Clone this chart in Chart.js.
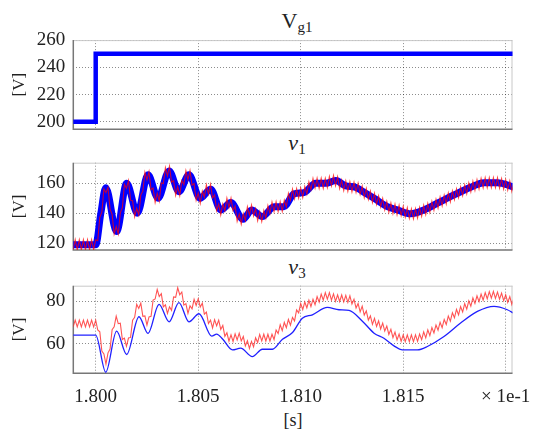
<!DOCTYPE html>
<html>
<head>
<meta charset="utf-8">
<script src="https://cdn.jsdelivr.net/npm/chart.js@4.4.0/dist/chart.umd.min.js"></script>
<style>
  body { margin: 0; background: #fff; width: 533px; height: 430px; position: relative; overflow: hidden;
         font-family: "Liberation Serif", "DejaVu Serif", serif; color: #222; }
  canvas { position: absolute; left: 0; }
  .ttl { position: absolute; left: 197px; width: 200px; text-align: center; font-size: 22px; line-height: 22px; }
  .ttl sub { font-size: 15px; vertical-align: -4px; line-height: 0; font-style: normal; }
  #xlab { position: absolute; left: 243px; width: 100px; text-align: center; top: 411px; font-size: 18px; line-height: 18px; }
</style>
</head>
<body>
<div class="ttl" style="top:10px">V<sub>g1</sub></div>
<div class="ttl" style="top:132px"><i>v</i><sub>1</sub></div>
<div class="ttl" style="top:256px"><i>v</i><sub>3</sub></div>
<div id="xlab">[s]</div>
<canvas id="c1"></canvas>
<canvas id="c2"></canvas>
<canvas id="c3"></canvas>
<script>
// ---- data (time axis in units of x 1e-1 s) ----
const xMin = 1.798907, xMax = 1.820332;

// V_g1 step
const vg1T = [1.7988, 1.8000, 1.8000, 1.8205];
const vg1V = [200, 200, 250, 250];

// v1, blue trace (read at extrema / turning points)
const v1BlueT = [1.7988, 1.8000, 1.80025, 1.80049, 1.80102, 1.80151, 1.80203, 1.80255, 1.80304, 1.80358,
  1.80406, 1.80455, 1.80509, 1.80561, 1.80610, 1.80659, 1.80719, 1.80761, 1.80813, 1.80870,
  1.80918, 1.80967, 1.81016, 1.81073, 1.81122, 1.81171, 1.81220, 1.81268, 1.81317, 1.81358,
  1.81423, 1.81472, 1.81537, 1.81601, 1.81667, 1.81748, 1.81829, 1.81894, 1.81959, 1.82040];
const v1BlueV = [119, 119, 140, 157, 127.8, 160, 140, 165.6, 150, 168.2,
  154.4, 165.6, 150, 156, 142.2, 147.1, 136, 142.2, 137.8, 144.4,
  144.4, 152.9, 153.8, 160, 160, 161.8, 158.2, 157.3, 153.3, 150,
  144.4, 142.2, 139.6, 142.2, 146.7, 152.2, 157.3, 160.4, 160.4, 157.5];

// v3, blue trace
const v3BlueT = [1.7988, 1.8000, 1.80049, 1.80102, 1.80151, 1.80211, 1.80255, 1.80309, 1.80358, 1.80406,
  1.80455, 1.80504, 1.80566, 1.80590, 1.80620, 1.80667, 1.80707, 1.80764, 1.80813, 1.80862,
  1.80911, 1.80960, 1.81008, 1.81057, 1.81130, 1.81187, 1.81236, 1.81301, 1.81358, 1.81406,
  1.81455, 1.81496, 1.81569, 1.81618, 1.81699, 1.81780, 1.81862, 1.81943, 1.82008, 1.82040];
const v3BlueV = [64, 64, 46.4, 65.9, 54.8, 72.7, 64.8, 78.6, 70.3, 79.4,
  70.3, 74.1, 63.5, 64.5, 62, 57.0, 57.8, 53.8, 57.3, 57.3,
  62.0, 65.2, 72.0, 73.6, 77.1, 76.0, 75.7, 70.6, 64.9, 62.5,
  58.9, 57.0, 57.0, 58.6, 63.3, 69.7, 75.2, 77.6, 76.0, 74.3];

// red traces with switching ripple, sampled every 1e-4 from 1.7988
const redStart = 1.7988, redStep = 0.0001;
const v1Red = [
  122.3, 115.7, 122.3, 115.7, 122.3, 115.7, 122.3, 115.7, 122.3, 115.7,
  122.3, 115.7, 122.3, 121.7, 137.3, 140.7, 156.3, 153.7, 157.3, 142.7,
  139.3, 126.2, 131.1, 126.2, 140.3, 143.7, 159.3, 156.7, 161.8, 148.7,
  148.3, 137.7, 143.3, 138.7, 152.3, 154.7, 167.3, 162.3, 167.8, 155.7,
  156.8, 147.2, 153.3, 148.2, 160.3, 159.7, 170.3, 164.9, 171.3, 160.7,
  161.8, 152.0, 157.7, 151.7, 161.8, 159.2, 168.3, 162.3, 168.5, 158.7,
  159.8, 148.7, 153.5, 146.7, 154.8, 150.7, 158.9, 152.7, 159.2, 150.2,
  152.3, 141.7, 146.1, 138.9, 146.3, 141.7, 150.0, 143.8, 150.1, 141.7,
  144.8, 134.7, 139.6, 132.7, 139.8, 135.2, 144.3, 138.8, 145.5, 138.2,
  143.0, 135.0, 141.1, 134.5, 141.8, 136.7, 145.1, 139.9, 147.4, 141.1,
  147.7, 141.1, 147.7, 141.3, 148.8, 144.2, 153.3, 148.7, 156.1, 149.6,
  156.4, 150.1, 156.9, 150.5, 157.8, 152.7, 160.9, 155.7, 163.1, 156.7,
  163.3, 156.7, 163.3, 156.7, 163.3, 157.2, 164.5, 158.3, 165.1, 158.4,
  164.3, 156.5, 162.1, 155.1, 161.5, 154.7, 161.1, 154.3, 160.7, 153.9,
  160.0, 152.5, 158.0, 150.4, 156.5, 149.2, 154.8, 147.2, 153.3, 145.9,
  151.6, 144.2, 149.9, 142.3, 147.9, 140.7, 146.8, 139.8, 146.0, 139.0,
  145.4, 138.4, 144.6, 137.5, 143.7, 136.6, 142.9, 136.3, 143.0, 136.8,
  143.9, 137.9, 145.3, 139.2, 146.5, 140.6, 147.9, 142.0, 149.3, 143.5,
  150.8, 144.9, 152.1, 146.2, 153.5, 147.6, 154.9, 149.1, 156.3, 150.4,
  157.6, 151.7, 158.9, 153.0, 160.2, 154.3, 161.4, 155.3, 162.4, 156.2,
  163.2, 156.9, 163.7, 157.1, 163.7, 157.1, 163.7, 157.1, 163.6, 156.8,
  163.1, 156.2, 162.4, 155.4, 161.6, 154.6, 160.8
];
const v3Red = [
  71.1, 67.9, 71.1, 67.9, 71.1, 67.9, 71.1, 67.9, 71.1, 67.9,
  71.1, 67.9, 71.1, 66.4, 65.6, 56.4, 55.1, 50.3, 55.6, 57.4,
  66.6, 67.9, 73.0, 69.4, 69.6, 61.9, 62.6, 58.7, 62.6, 62.9,
  71.1, 72.4, 78.6, 76.6, 79.1, 72.9, 73.1, 68.7, 72.6, 72.9,
  80.6, 81.1, 85.6, 82.3, 83.6, 77.4, 78.3, 74.3, 77.4, 75.7,
  82.1, 81.9, 86.4, 83.1, 84.4, 78.2, 78.9, 74.3, 77.9, 76.4,
  80.9, 78.0, 81.2, 77.3, 79.1, 73.9, 74.9, 69.5, 71.1, 67.4,
  71.3, 68.4, 71.1, 66.7, 68.6, 63.4, 65.1, 61.1, 64.1, 61.0,
  64.6, 61.7, 64.9, 61.2, 63.3, 58.9, 61.3, 57.7, 61.0, 58.4,
  62.7, 60.5, 64.3, 61.2, 64.4, 61.2, 64.4, 61.2, 64.4, 61.9,
  66.4, 64.7, 68.9, 66.1, 70.0, 67.5, 71.4, 68.7, 72.4, 70.7,
  75.9, 74.5, 78.9, 76.1, 79.7, 76.9, 80.5, 77.5, 81.0, 78.4,
  82.2, 79.6, 83.4, 80.6, 84.1, 81.0, 84.1, 80.6, 83.5, 80.0,
  83.1, 79.9, 83.0, 79.7, 82.8, 79.5, 82.6, 78.7, 81.0, 76.8,
  79.0, 75.0, 77.7, 73.5, 75.5, 71.1, 73.1, 69.1, 71.9, 68.1,
  70.7, 66.9, 69.7, 65.9, 68.3, 64.3, 66.7, 62.8, 65.4, 61.7,
  64.5, 61.0, 64.1, 60.9, 64.1, 60.9, 64.1, 60.9, 64.1, 61.0,
  64.5, 61.8, 65.5, 62.7, 66.5, 63.8, 67.6, 65.0, 68.8, 66.3,
  70.1, 67.5, 71.4, 69.0, 73.0, 70.6, 74.6, 72.2, 76.2, 73.6,
  77.5, 75.0, 78.9, 76.3, 80.2, 77.7, 81.6, 79.0, 82.6, 79.8,
  83.4, 80.6, 84.1, 81.2, 84.6, 81.5, 84.7, 81.4, 84.4, 81.0,
  83.9, 80.3, 83.1, 79.5, 82.2, 78.5, 81.4
];

// ---- helpers ----
const FONT = '"Liberation Serif", "DejaVu Serif", serif';
const pts = (ts, vs) => ts.map((t, i) => ({ x: t, y: vs[i] }));
const gridPts = vs => vs.map((v, i) => ({ x: redStart + i * redStep, y: v }));

// box around the axes: light top/right, darker left/bottom
const framePlugin = {
  id: "frame",
  beforeDatasetsDraw(chart) {
    const a = chart.chartArea, ctx = chart.ctx;
    ctx.save();
    ctx.strokeStyle = "#c8c8c8"; ctx.lineWidth = 1;
    ctx.beginPath();
    ctx.moveTo(a.left, a.top + 0.5); ctx.lineTo(a.right, a.top + 0.5);
    ctx.moveTo(a.right - 0.5, a.top); ctx.lineTo(a.right - 0.5, a.bottom);
    ctx.stroke();
    ctx.strokeStyle = "#777"; ctx.lineWidth = 1.5;
    ctx.beginPath();
    ctx.moveTo(a.left, a.top); ctx.lineTo(a.left, a.bottom);
    ctx.lineTo(a.right, a.bottom);
    ctx.stroke();
    ctx.restore();
  }
};

const CW = 560, PLOT_L = 73.3, PLOT_R = 512.5;

function panel(id, o) {
  const canvas = document.getElementById(id);
  const top = Math.floor(o.plotTop - 28);
  const H = o.canvasBottom - top;
  const xh = o.canvasBottom - o.plotBottom;
  canvas.width = CW; canvas.height = H;
  canvas.style.top = top + "px";
  new Chart(canvas, {
    type: "line",
    data: { datasets: o.datasets },
    options: {
      responsive: false, animation: false, devicePixelRatio: 1,
      layout: { padding: { top: o.plotTop - top, left: 0, right: CW - PLOT_R, bottom: 0 } },
      plugins: { legend: { display: false }, tooltip: { enabled: false } },
      elements: { point: { radius: 0 } },
      scales: {
        x: {
          type: "linear", min: xMin, max: xMax,
          ticks: {
            display: o.xLabels, stepSize: 0.005, includeBounds: false, autoSkip: false, maxRotation: 0,
            padding: 12, color: "#222", font: { family: FONT, size: 19 },
            callback: v => Math.abs(v - 1.82) < 1e-7 ? "\u00d7 1e-1" : v.toFixed(3)
          },
          grid: { color: "rgba(0,0,0,0.45)", lineWidth: 1, drawTicks: false },
          border: { display: false, dash: [1, 2] },
          afterFit: s => { s.height = xh; }
        },
        y: {
          min: o.yMin, max: o.yMax,
          ticks: { stepSize: 20, includeBounds: false, padding: 8, color: "#222", font: { family: FONT, size: 19 } },
          grid: { color: "rgba(0,0,0,0.45)", lineWidth: 1, drawTicks: false },
          border: { display: false, dash: [1, 2] },
          title: { display: true, text: "[V]", color: "#222", font: { family: FONT, size: 17 }, padding: { top: 9, bottom: 0 } },
          afterFit: s => { s.width = PLOT_L; }
        }
      }
    },
    plugins: [framePlugin]
  });
}

panel("c1", {
  plotTop: 40.1, plotBottom: 129.3, canvasBottom: 156, yMin: 194.5, yMax: 260, xLabels: false,
  datasets: [
    { data: pts(vg1T, vg1V), borderColor: "#0000ff", borderWidth: 4.5, tension: 0, clip: 0 }
  ]
});

panel("c2", {
  plotTop: 162.7, plotBottom: 250, canvasBottom: 277, yMin: 115.5, yMax: 173.7, xLabels: false,
  datasets: [
    { data: gridPts(v1Red), borderColor: "rgba(255,0,0,0.75)", borderWidth: 1.1, tension: 0, order: 1, clip: 0 },
    { data: pts(v1BlueT, v1BlueV), borderColor: "#0000ff", borderWidth: 7, cubicInterpolationMode: "monotone",
      borderJoinStyle: "round", order: 2, clip: 0 }
  ]
});

panel("c3", {
  plotTop: 285.7, plotBottom: 373.3, canvasBottom: 430, yMin: 45.9, yMax: 87.4, xLabels: true,
  datasets: [
    { data: gridPts(v3Red), borderColor: "rgba(255,40,40,0.8)", borderWidth: 1.1, tension: 0, order: 1, clip: 0 },
    { data: pts(v3BlueT, v3BlueV), borderColor: "#2020ff", borderWidth: 1.3, cubicInterpolationMode: "monotone",
      order: 2, clip: 0 }
  ]
});
</script>
</body>
</html>
